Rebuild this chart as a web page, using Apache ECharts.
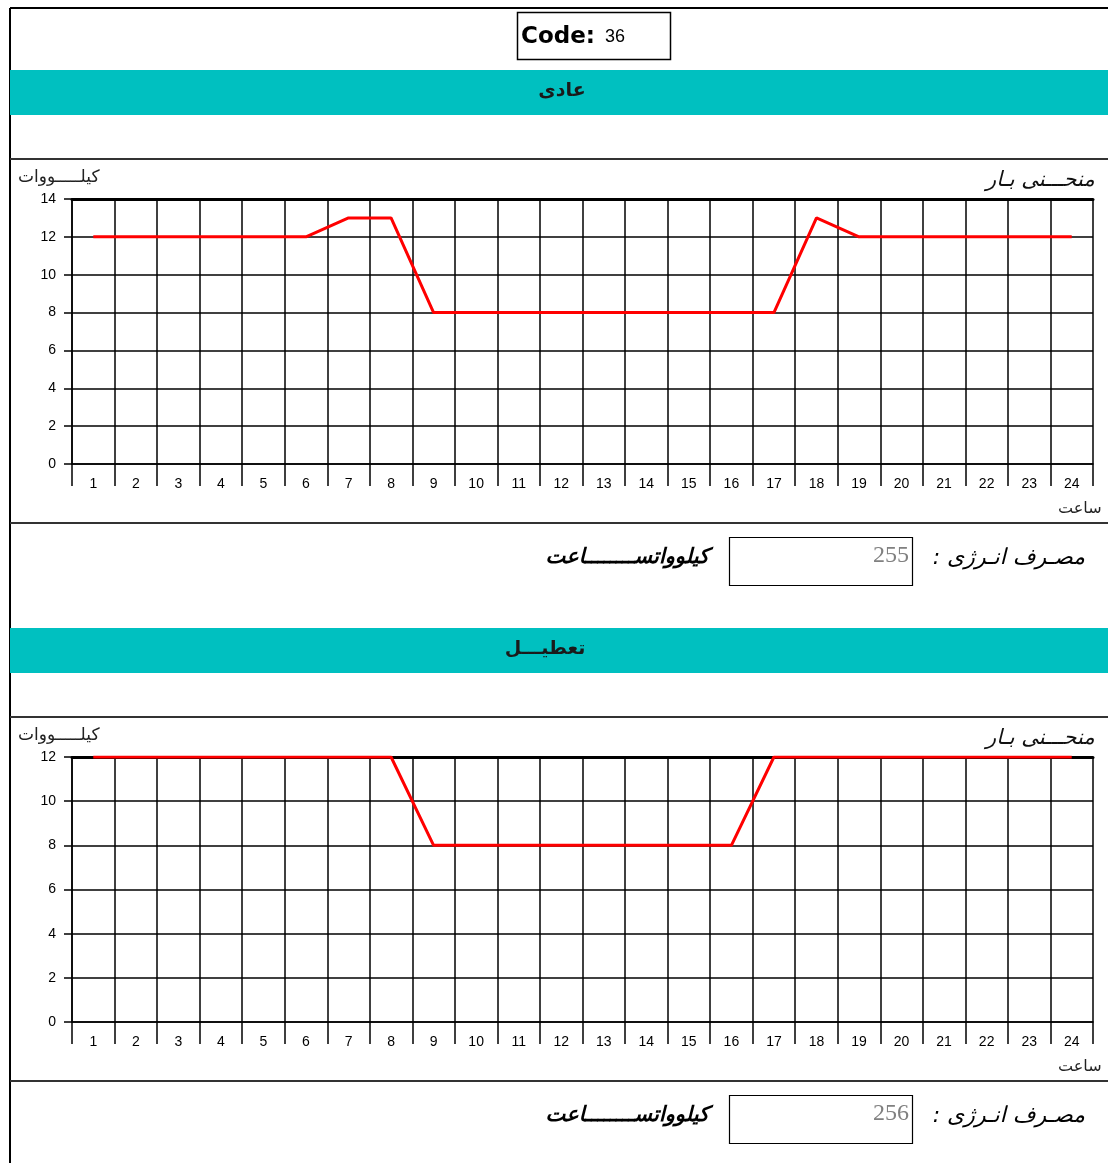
<!DOCTYPE html>
<html>
<head>
<meta charset="utf-8">
<script src="https://cdn.jsdelivr.net/npm/echarts@6/dist/echarts.min.js"></script>
<style>
  html, body { margin: 0; padding: 0; background: #fff; }
  #main { width: 1108px; height: 1163px; }
</style>
</head>
<body>
<div id="main"></div>
<script>
// داده‌ها
const hours = ['1','2','3','4','5','6','7','8','9','10','11','12','13','14','15','16','17','18','19','20','21','22','23','24'];
const normalLoad = [12,12,12,12,12,12,13,13,8,8,8,8,8,8,8,8,8,13,12,12,12,12,12,12];
const holidayLoad = [12,12,12,12,12,12,12,12,8,8,8,8,8,8,8,8,12,12,12,12,12,12,12,12];
const yMax = [14, 12];
const energy = [255, 256];
const sectionNames = ['عادی', 'تعطیـــل'];
const code = '36';

const persian = '"DejaVu Sans", sans-serif';
const latin = 'Arial, "Liberation Sans", sans-serif';
const chart = echarts.init(document.getElementById('main'), null, { renderer: 'canvas' });

const grids = [], xAxes = [], yAxes = [], series = [], graphics = [];

// قاب بیرونی و کد
graphics.push(
  { type: 'line', shape: { x1: 10, y1: 8, x2: 1108, y2: 8 }, style: { stroke: '#000', lineWidth: 2 } },
  { type: 'line', shape: { x1: 10, y1: 8, x2: 10, y2: 1163 }, style: { stroke: '#000', lineWidth: 2 } },
  { type: 'rect', shape: { x: 517.5, y: 12.5, width: 153, height: 47 }, style: { fill: '#fff', stroke: '#000', lineWidth: 1.5 } },
  { type: 'text', x: 521, y: 37, style: {
      text: '{b|Code:}   {n|' + code + '}', verticalAlign: 'middle',
      rich: { b: { fontFamily: '"DejaVu Sans", sans-serif', fontWeight: 'bold', fontSize: 23, fill: '#000' },
              n: { fontFamily: latin, fontSize: 18, fill: '#000' } } } }
);

[normalLoad, holidayLoad].forEach((data, i) => {
  const off = i * 558;
  const gTop = 199 + off;

  grids.push({ left: 72, top: gTop, width: 1021, height: 265 });
  xAxes.push({
    gridIndex: i, type: 'category', data: hours, boundaryGap: true,
    axisLine: { lineStyle: { color: '#000', width: 1.5 } },
    axisTick: { show: true, length: 22, lineStyle: { color: '#000', width: 1.5 } },
    axisLabel: { color: '#000', fontFamily: latin, fontSize: 14, margin: 13, interval: 0 },
    splitLine: { show: true, lineStyle: { color: '#000', width: 1.5 } }
  });
  // خط ضخیم بالای نمودار
  xAxes.push({
    gridIndex: i, type: 'category', data: hours, position: 'top',
    axisLine: { lineStyle: { color: '#000', width: 3 } },
    axisTick: { show: false }, axisLabel: { show: false }, splitLine: { show: false }
  });
  yAxes.push({
    gridIndex: i, type: 'value', min: 0, max: yMax[i], interval: 2,
    axisLine: { show: true, lineStyle: { color: '#000', width: 1.5 } },
    axisTick: { show: true, length: 8, lineStyle: { color: '#000', width: 1.5 } },
    axisLabel: { color: '#000', fontFamily: latin, fontSize: 14, margin: 16 },
    splitLine: { show: true, lineStyle: { color: '#000', width: 1.5 } }
  });
  series.push({
    type: 'line', xAxisIndex: i * 2, yAxisIndex: i, data: data,
    symbol: 'none', z: 5,
    lineStyle: { color: '#ff0000', width: 3 }
  });

  graphics.push(
    // نوار فیروزه‌ای
    { type: 'rect', shape: { x: 10, y: 70 + off, width: 1098, height: 45 }, style: { fill: '#00c0c0' } },
    { type: 'text', x: 562 - i * 17, y: 91 + off, style: { text: sectionNames[i], fontFamily: persian, fontWeight: 'bold', fontSize: 19, fill: '#1a1a1a', align: 'center', verticalAlign: 'middle' } },
    { type: 'line', shape: { x1: 10, y1: 159 + off, x2: 1108, y2: 159 + off }, style: { stroke: '#333', lineWidth: 2 } },
    { type: 'line', shape: { x1: 10, y1: 523 + off, x2: 1108, y2: 523 + off }, style: { stroke: '#333', lineWidth: 2 } },
    // عنوان‌ها
    { type: 'text', x: 18, y: 178 + off, style: { text: 'کیلـــــووات', fontFamily: persian, fontSize: 17, fill: '#222', verticalAlign: 'middle' } },
    { type: 'text', x: 986, y: 181 + off, style: { text: 'منحـــنی بـار', fontFamily: persian, fontStyle: 'italic', fontSize: 21, fill: '#111', verticalAlign: 'middle' } },
    { type: 'text', x: 1058, y: 509 + off, style: { text: 'ساعت', fontFamily: persian, fontSize: 16, fill: '#222', verticalAlign: 'middle' } },
    // مصرف انرژی
    { type: 'text', x: 1085, y: 558 + off, style: { text: 'مصـرف انـرژی :\u200F', fontFamily: persian, fontStyle: 'italic', fontSize: 22, fill: '#000', align: 'right', verticalAlign: 'middle' } },
    { type: 'rect', shape: { x: 729.5, y: 537.5 + off, width: 183, height: 48 }, style: { fill: '#fff', stroke: '#000', lineWidth: 1.2 } },
    { type: 'text', x: 909, y: 556 + off, style: { text: String(energy[i]), fontFamily: '"Liberation Serif", "DejaVu Serif", serif', fontSize: 24, fill: '#808080', align: 'right', verticalAlign: 'middle' } },
    { type: 'text', x: 709, y: 558 + off, style: { text: 'کیلوواتســــــــاعت', fontFamily: persian, fontStyle: 'italic', fontWeight: 'bold', fontSize: 21, fill: '#000', align: 'right', verticalAlign: 'middle' } }
  );
});

const option = {
  animation: false,
  backgroundColor: '#fff',
  grid: grids,
  xAxis: xAxes,
  yAxis: yAxes,
  series: series,
  graphic: graphics
};
chart.setOption(option);
</script>
</body>
</html>
